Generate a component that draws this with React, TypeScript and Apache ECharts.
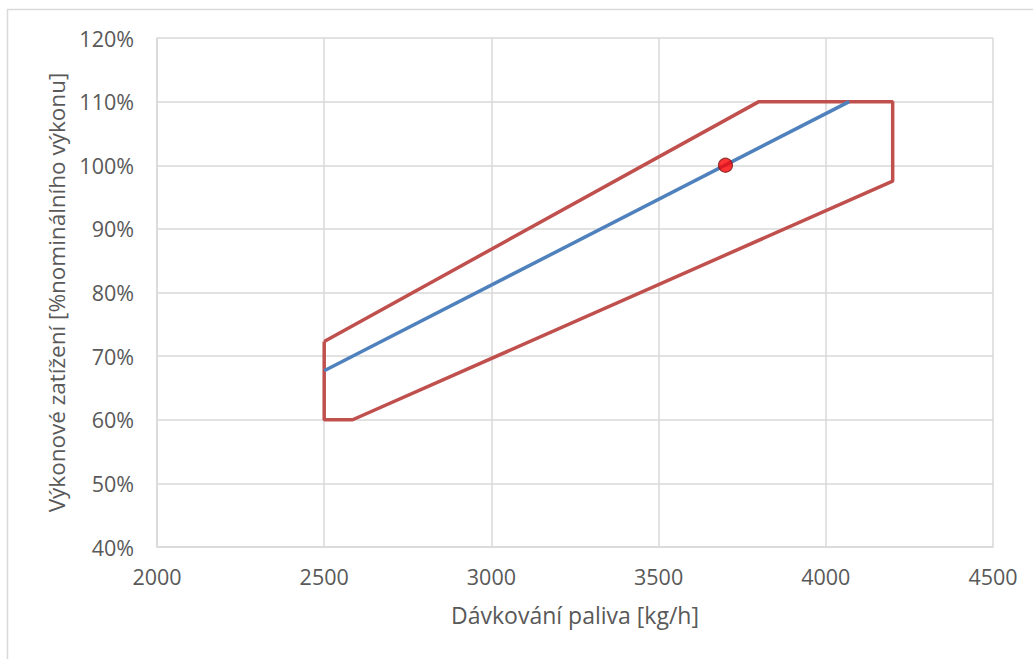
import React, { useEffect, useRef } from "react";
import * as echarts from "echarts";

const xTicks = [2000, 2500, 3000, 3500, 4000, 4500];
const envelope: [number, number][] = [
  [2500, 72.3],
  [3800, 110],
  [4200, 110],
  [4200, 97.5],
  [2585, 60],
  [2500, 60],
  [2500, 72.3],
];
const nominalLine: [number, number][] = [
  [2500, 67.7],
  [4070, 110],
];
const operatingPoint: [number, number][] = [[3700, 100]];

const FONT = "'Open Sans', 'Noto Sans', sans-serif";
const TXT = "#595959";

export default function App() {
  const ref = useRef<HTMLDivElement>(null);
  useEffect(() => {
    document.body.style.margin = "0";
    const chart = echarts.init(ref.current!, undefined, { renderer: "svg" });
    chart.setOption({
      animation: false,
      backgroundColor: "#ffffff",
      grid: { left: 157, top: 38, right: 40, bottom: 112, containLabel: false },
      graphic: [
        {
          type: "rect",
          shape: { x: 7.5, y: 9.5, width: 1040, height: 700 },
          style: { fill: "none", stroke: "#d9d9d9", lineWidth: 1.5 },
          silent: true,
        },
      ],
      xAxis: {
        type: "value",
        min: 2000,
        max: 4500,
        interval: 500,
        name: "Dávkování paliva [kg/h]",
        nameLocation: "middle",
        nameGap: 56,
        nameTextStyle: { fontFamily: FONT, fontSize: 23, color: TXT },
        axisLine: { show: true, lineStyle: { color: "#d9d9d9", width: 1.5 } },
        axisTick: { show: false },
        axisLabel: {
          fontFamily: FONT,
          fontSize: 21.5,
          color: TXT,
          margin: 18,
          customValues: xTicks,
          formatter: (v: number) => String(v),
        },
        splitLine: { show: true, lineStyle: { color: "#d9d9d9", width: 1.5 } },
      },
      yAxis: {
        type: "value",
        min: 40,
        max: 120,
        interval: 10,
        name: "Výkonové zatížení [%nominálního výkonu]",
        nameLocation: "middle",
        nameGap: 84,
        nameRotate: 90,
        nameTextStyle: { fontFamily: FONT, fontSize: 22.5, color: TXT },
        axisLine: { show: true, lineStyle: { color: "#d9d9d9", width: 1.5 } },
        axisTick: { show: false },
        axisLabel: {
          fontFamily: FONT,
          fontSize: 21.5,
          color: TXT,
          margin: 23,
          formatter: "{value}%",
        },
        splitLine: { show: true, lineStyle: { color: "#d9d9d9", width: 1.5 } },
      },
      series: [
        {
          type: "line",
          data: envelope,
          showSymbol: false,
          symbol: "none",
          lineStyle: { color: "#c0504d", width: 3.5 },
          z: 3,
        },
        {
          type: "line",
          data: nominalLine,
          showSymbol: false,
          symbol: "none",
          lineStyle: { color: "#4f81bd", width: 3.5 },
          z: 4,
        },
        {
          type: "scatter",
          data: operatingPoint,
          symbol: "circle",
          symbolSize: 14,
          itemStyle: { color: "#ff0000", borderColor: "#7a1a1a", borderWidth: 1.2 },
          z: 5,
        },
      ],
    });
    return () => chart.dispose();
  }, []);
  return <div ref={ref} style={{ width: 1033, height: 659 }} />;
}
